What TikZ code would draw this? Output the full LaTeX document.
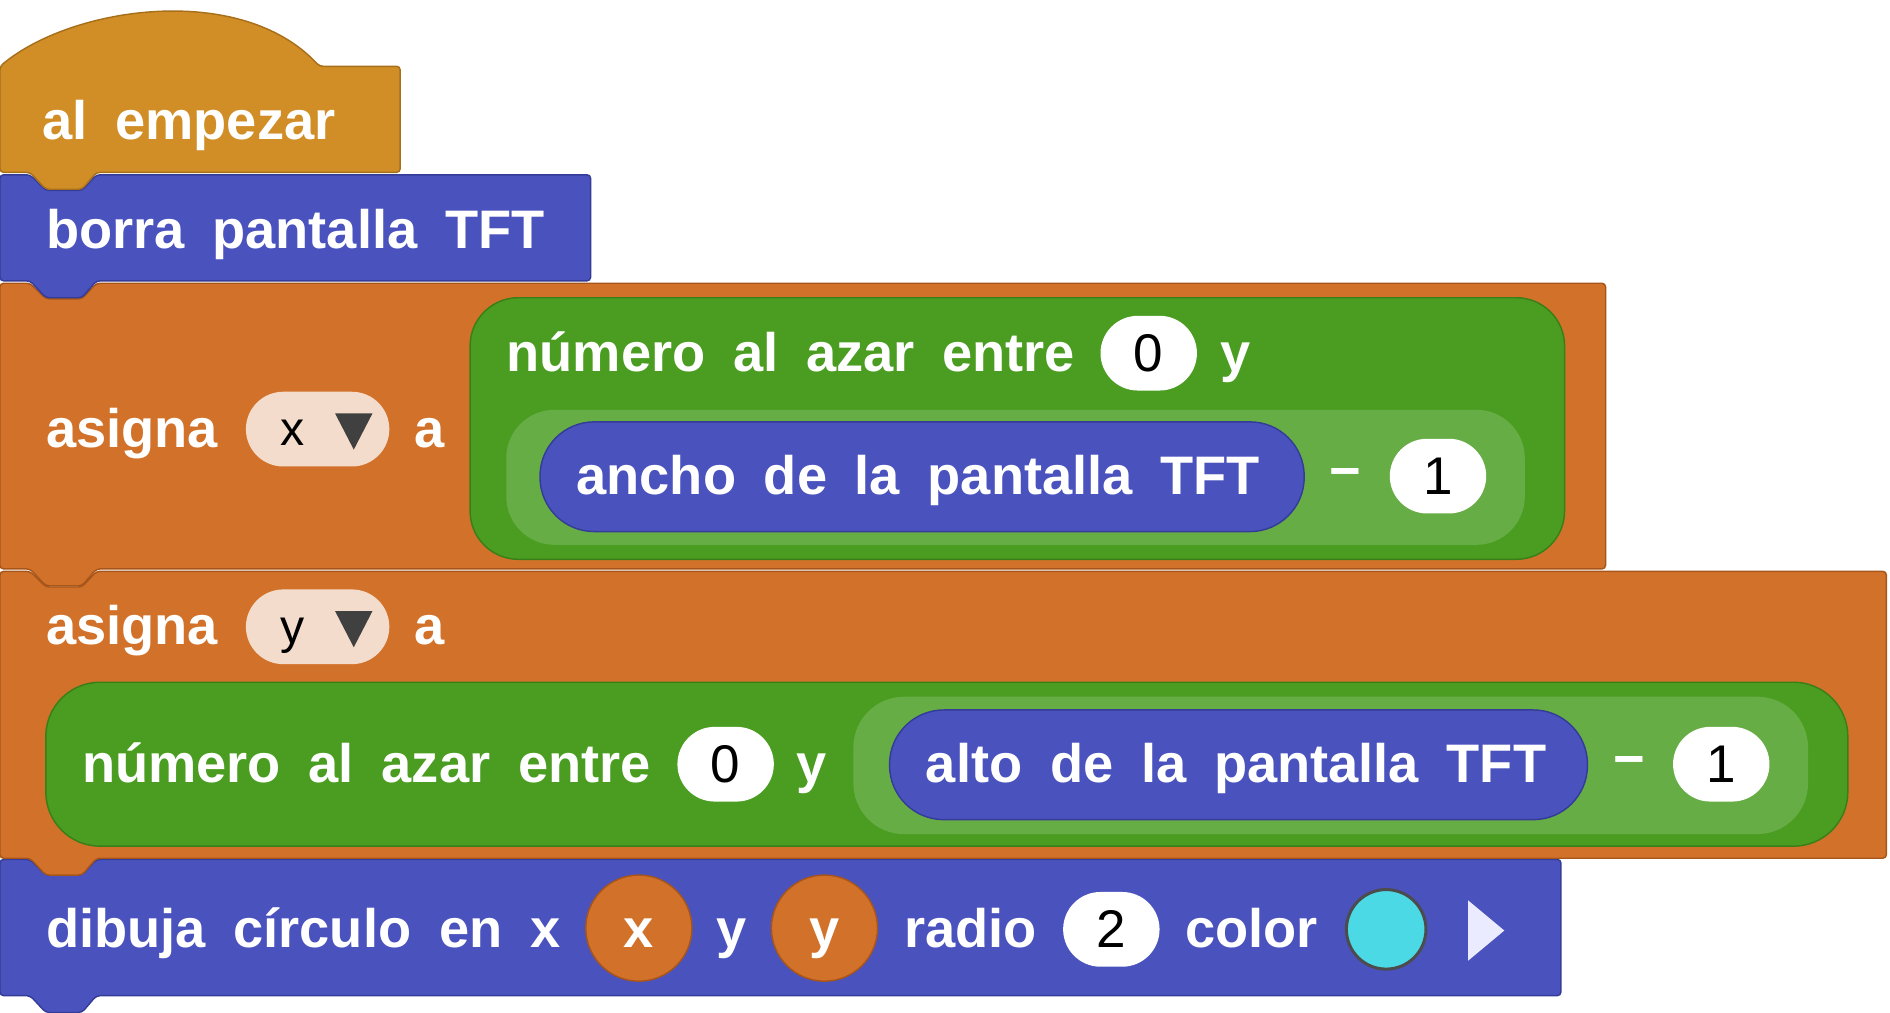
\documentclass[tikz,border=0pt]{standalone}
\usepackage{fontspec}
\setmainfont{Liberation Sans}
\definecolor{gold}{HTML}{D18E26}
\definecolor{goldd}{HTML}{A86F1A}
\definecolor{blu}{HTML}{4A52BE}
\definecolor{blud}{HTML}{343C98}
\definecolor{org}{HTML}{D2722A}
\definecolor{orgd}{HTML}{A8551A}
\definecolor{grn}{HTML}{4A9D21}
\definecolor{grnd}{HTML}{3A7E18}
\definecolor{lgrn}{HTML}{67AD45}
\definecolor{drop}{HTML}{F3DCCB}
\definecolor{cyn}{HTML}{4CD9E6}
\newcommand{\wsp}{\hspace{23pt}}
\tikzset{
 lbl/.style={text=white,font=\fontsize{45}{45}\selectfont\bfseries,anchor=base west,inner sep=0pt},
 num/.style={fill=white,rounded corners=31pt,minimum width=80pt,minimum height=62pt,inner sep=0pt,font=\fontsize{44}{44}\selectfont},
 blk/.style={line width=1.2pt,rounded corners=3pt}
}
\begin{document}
\begin{tikzpicture}[x=1pt,y=-1pt]
\useasboundingbox (0,0) rectangle (1568,840);
% dibuja block
\draw[blk,fill=blu,draw=blud] (0,713) -- (25,713) -- (38,726) -- (68,726) -- (80,713) -- (1295,713) -- (1295,826) -- (80,826) -- (68,840) -- (38,840) -- (25,826) -- (0,826) -- cycle;
% asigna y block
\draw[blk,fill=org,draw=orgd] (0,474) -- (25,474) -- (38,487) -- (68,487) -- (80,474) -- (1565,474) -- (1565,712) -- (80,712) -- (68,726) -- (38,726) -- (25,712) -- (0,712) -- cycle;
% asigna x block
\draw[blk,fill=org,draw=orgd] (0,235) -- (25,235) -- (38,248) -- (68,248) -- (80,235) -- (1332,235) -- (1332,472) -- (80,472) -- (68,486) -- (38,486) -- (25,472) -- (0,472) -- cycle;
% borra block
\draw[blk,fill=blu,draw=blud] (0,145) -- (25,145) -- (38,158) -- (68,158) -- (80,145) -- (490,145) -- (490,233) -- (80,233) -- (68,247) -- (38,247) -- (25,233) -- (0,233) -- cycle;
% hat
\draw[blk,fill=gold,draw=goldd] (0,55) .. controls (60,5) and (200,-15) .. (265,55) -- (332,55) -- (332,143) -- (80,143) -- (68,157) -- (38,157) -- (25,143) -- (0,143) -- cycle;
\node[lbl] (t0) at (35,116) {al\wsp empezar};
\node[lbl] (t1) at (38,206) {borra\wsp pantalla\wsp TFT};
% asigna x
\node[lbl] (a1) at (38,371) {asigna};
\node[fill=drop,rounded corners=31pt,minimum width=119pt,minimum height=62pt] (d1) at (263.5,356) {};
\node[font=\fontsize{40}{40}\selectfont,anchor=base] (d1x) at (243,370) {x};
\fill[black!75] (278,343) -- (309,343) -- (293.5,373) -- cycle;
\node[lbl] (a1a) at (344,371) {a};
\draw[fill=grn,draw=grnd,line width=1.2pt,rounded corners=40pt] (390,247) rectangle (1298,464);
\node[lbl] (r1) at (420,308) {número\wsp al\wsp azar\wsp entre};
\node[num] (z1) at (953,293) {0};
\node[lbl] (y1) at (1012,308) {y};
\draw[fill=lgrn,draw=none,rounded corners=40pt] (420,340) rectangle (1265,452);
\draw[fill=blu,draw=blud,line width=1.2pt,rounded corners=45pt] (448,350) rectangle (1082,441);
\node[lbl] (w1) at (478,410) {ancho\wsp de\wsp la\wsp pantalla\wsp TFT};
\node[lbl] (m1) at (1103,406) {−};
\node[num] (o1) at (1193,395) {1};
% asigna y
\node[lbl] (a2) at (38,535) {asigna};
\node[fill=drop,rounded corners=31pt,minimum width=119pt,minimum height=62pt] (d2) at (263.5,520) {};
\node[font=\fontsize{40}{40}\selectfont,anchor=base] (d2y) at (243,534) {y};
\fill[black!75] (278,507) -- (309,507) -- (293.5,537) -- cycle;
\node[lbl] (a2a) at (344,535) {a};
\draw[fill=grn,draw=grnd,line width=1.2pt,rounded corners=45pt] (38,566) rectangle (1533,702);
\node[lbl] (r2) at (68,649) {número\wsp al\wsp azar\wsp entre};
\node[num] (z2) at (602,634) {0};
\node[lbl] (y2) at (661,649) {y};
\draw[fill=lgrn,draw=none,rounded corners=42pt] (708,578) rectangle (1500,692);
\draw[fill=blu,draw=blud,line width=1.2pt,rounded corners=45pt] (738,589) rectangle (1317,680);
\node[lbl] (w2) at (768,649) {alto\wsp de\wsp la\wsp pantalla\wsp TFT};
\node[lbl] (m2) at (1338,645) {−};
\node[num] (o2) at (1428,634) {1};
% dibuja
\node[lbl] (b1) at (38,786) {dibuja\wsp círculo\wsp en\wsp x};
\node[circle,fill=org,draw=orgd,line width=1.2pt,minimum size=88pt,inner sep=0pt] (cx) at (530,770) {};
\node[lbl,anchor=base] (cxt) at (530,786) {x};
\node[lbl] (b2) at (594,786) {y};
\node[circle,fill=org,draw=orgd,line width=1.2pt,minimum size=88pt,inner sep=0pt] (cy) at (684,770) {};
\node[lbl,anchor=base] (cyt) at (684,786) {y};
\node[lbl] (b3) at (750,786) {radio};
\node[num] (rr) at (922,771) {2};
\node[lbl] (b4) at (983,786) {color};
\node[circle,fill=cyn,draw=black!70,line width=2.5pt,minimum size=66pt,inner sep=0pt] (cc) at (1150,771) {};
\fill[blue!8] (1218,747) -- (1248,772) -- (1218,797) -- cycle;
\end{tikzpicture}
\end{document}
